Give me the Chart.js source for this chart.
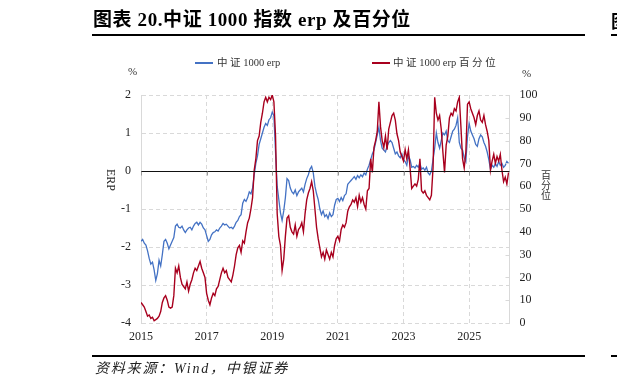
<!DOCTYPE html>
<html><head><meta charset="utf-8">
<script src="https://cdn.jsdelivr.net/npm/chart.js@4/dist/chart.umd.min.js"></script>
<style>
html,body{margin:0;padding:0;background:#fff;width:617px;height:387px;overflow:hidden;position:relative;}
.t{position:absolute;white-space:nowrap;color:#000;}
#title{left:93px;top:11px;font:bold 19px/18px "Liberation Serif","Noto Sans CJK SC",serif;letter-spacing:0.6px;}
.rule{position:absolute;background:#000;height:1.5px;}
#src{left:95px;top:361px;font:italic 14px/16px "Liberation Serif","Noto Sans CJK SC",serif;color:#222;letter-spacing:1.8px;}
.leg{font:10.5px/12px "Liberation Serif","Noto Sans CJK SC",serif;color:#333;}
.lline{position:absolute;height:1.5px;}
.unit{font:11px/12px "Liberation Serif",serif;color:#333;}
#erp{left:100px;top:174px;font:12px/12px "Liberation Serif",serif;transform:rotate(90deg);transform-origin:center;color:#222;}
#pct{left:541px;top:170px;font:10px/10px "Noto Sans CJK SC",sans-serif;color:#333;white-space:normal;width:11px;}
canvas{position:absolute;left:0;top:0;}
</style></head>
<body>
<canvas id="c" width="617" height="387"></canvas>
<div class="t" id="title">图表 20.中证 1000 指数 erp 及百分位</div>
<div class="rule" style="left:92px;top:34px;width:493px;"></div>
<div class="t" style="left:611px;top:11px;font:bold 18px/18px 'Noto Sans CJK SC';">图</div>
<div class="rule" style="left:611px;top:34px;width:6px;"></div>
<div class="lline" style="left:195px;top:62px;width:18px;background:#4472C4;"></div>
<div class="t leg" style="left:217px;top:57px;">中 证 1000 erp</div>
<div class="lline" style="left:372px;top:62px;width:18px;background:#A8001E;"></div>
<div class="t leg" style="left:393px;top:57px;">中 证 1000 erp 百 分 位</div>
<div class="t unit" style="left:128px;top:65px;">%</div>
<div class="t unit" style="left:522px;top:67px;">%</div>
<div class="t" id="erp">ERP</div>
<div class="t" id="pct">百分位</div>
<div class="rule" style="left:92px;top:355px;width:493px;"></div>
<div class="rule" style="left:611px;top:355px;width:6px;"></div>
<div class="t" id="src">资料来源：Wind，中银证券</div>
<script>
// decimal-year dates (every ~0.05 year)
const dates = [];
for (let i = 0; i <= 224; i++) dates.push(+(2015 + i * 0.05).toFixed(2));

const xTicks = [2015, 2017, 2019, 2021, 2023, 2025];

// 中证1000 erp (%)
const erp = [
-1.85,-1.80,-1.90,-1.95,-2.10,-2.30,-2.45,-2.40,-2.60,-2.88,-2.70,-2.35,-2.50,-2.20,-1.85,-1.80,-1.90,-2.05,-1.95,-1.85,
-1.75,-1.45,-1.40,-1.48,-1.50,-1.45,-1.55,-1.62,-1.55,-1.50,-1.48,-1.55,-1.45,-1.38,-1.35,-1.42,-1.35,-1.40,-1.50,-1.55,
-1.70,-1.85,-1.80,-1.68,-1.62,-1.60,-1.55,-1.58,-1.50,-1.45,-1.38,-1.42,-1.40,-1.45,-1.50,-1.48,-1.52,-1.45,-1.35,-1.30,
-1.20,-1.15,-0.85,-0.75,-0.80,-0.70,-0.55,-0.60,-0.45,-0.10,0.20,0.40,0.70,0.85,1.00,1.15,1.25,1.20,1.35,1.40,
1.55,1.45,0.50,-0.40,-0.75,-1.10,-1.30,-1.05,-0.70,-0.20,-0.25,-0.45,-0.55,-0.60,-0.50,-0.65,-0.55,-0.50,-0.45,-0.55,
-0.35,-0.20,-0.10,0.05,0.12,-0.05,-0.40,-0.60,-0.75,-1.00,-1.15,-1.05,-1.20,-1.15,-1.25,-1.10,-1.20,-1.15,-0.90,-0.75,
-0.72,-0.80,-0.70,-0.78,-0.65,-0.60,-0.35,-0.30,-0.25,-0.20,-0.15,-0.22,-0.12,-0.18,-0.10,-0.15,-0.05,-0.10,0.05,0.15,
0.30,0.45,0.55,0.75,0.95,1.15,0.80,0.60,0.55,0.50,0.65,0.75,0.80,0.75,0.60,0.45,0.50,0.40,0.35,0.45,
0.30,0.25,0.15,0.40,0.30,0.10,0.12,0.08,0.15,0.10,0.20,0.05,0.08,0.02,0.10,-0.05,-0.10,0.00,0.30,0.60,
1.00,0.75,0.60,0.80,1.00,0.95,1.05,0.80,0.75,0.90,1.05,1.10,1.20,1.40,0.75,0.60,0.55,0.35,0.25,0.90,
1.25,1.05,0.95,0.85,0.70,0.65,0.85,0.95,0.90,0.75,0.65,0.50,0.30,0.05,0.15,0.10,0.20,0.12,0.25,0.15,
0.20,0.10,0.15,0.25,0.20
];

// 中证1000 erp 百分位 (%)
const pctl = [
9,8,7,5,3,3.5,2,2.5,1,1.5,2,3,5,9,11,12,10,7,6.5,7,
12,24,22,25,20,17,16,15,18,14,17,19,22,24,23,25,27,24,22,20,
13,10,8,11,13,12,15,16,19,22,24,22,23,20,19,18,21,25,30,33,
34,31,36,35,40,44,46,50,55,67,72,80,82,88,92,97,99,97,99,98,
100,97,82,48,38,34,23,28,38,46,47,42,40,39,43,38,41,42,44,40,
48,54,57,59,62,58,50,42,37,33,29,31,28,32,30,28,31,29,34,37,
38,36,41,43,42,44,49,51,52,54,53,55,51,56,53,55,52,50,58,59,
72,66,77,80,84,97,86,80,77,82,76,85,88,91,92,89,83,80,75,73,
71,76,72,76,68,59,60,61,60,63,72,58,57,58,56,55,54,56,68,99,
92,89,91,85,75,66,78,82,90,92,91,94,93,97,99,86,72,68,75,96,
97,94,92,90,87,91,93,89,88,91,87,84,80,67,71,74,70,73,71,74,
67,62,64,61,66
];

const GRID = '#d9d9d9';
const extras = {
  id: 'extras',
  afterDatasetsDraw(chart) {
    const {ctx, chartArea: a, scales} = chart;
    const y0 = Math.round(scales.y.getPixelForValue(0)) + 0.5;
    ctx.save();
    ctx.strokeStyle = '#111';
    ctx.lineWidth = 1;
    ctx.beginPath();
    ctx.moveTo(a.left, y0); ctx.lineTo(a.right, y0);
    ctx.stroke();
    ctx.strokeStyle = '#999';
    xTicks.forEach(v => {
      const x = Math.round(scales.x.getPixelForValue(v)) + 0.5;
      ctx.beginPath(); ctx.moveTo(x, y0); ctx.lineTo(x, y0 + 4); ctx.stroke();
    });
    ctx.strokeStyle = GRID;
    scales.y1.ticks.forEach(t => {
      const y = Math.round(scales.y1.getPixelForValue(t.value)) + 0.5;
      ctx.beginPath(); ctx.moveTo(a.right - 4, y); ctx.lineTo(a.right, y); ctx.stroke();
    });
    ctx.restore();
  }
};

const tickFont = {family: '"Liberation Serif", serif', size: 12};
new Chart(document.getElementById('c'), {
  type: 'line',
  data: {
    datasets: [
      {label: '中证1000 erp', data: dates.map((d, i) => ({x: d, y: erp[i]})), yAxisID: 'y',
       borderColor: '#4472C4', borderWidth: 1.3, pointRadius: 0, tension: 0, order: 2},
      {label: '中证1000 erp 百分位', data: dates.map((d, i) => ({x: d, y: pctl[i]})), yAxisID: 'y1',
       borderColor: '#A8001E', borderWidth: 1.4, pointRadius: 0, tension: 0, order: 1}
    ]
  },
  options: {
    responsive: false, animation: false, devicePixelRatio: 1,
    layout: {padding: {left: 0, right: 0, top: 95, bottom: 0}},
    plugins: {legend: {display: false}, tooltip: {enabled: false}},
    scales: {
      x: {
        type: 'linear', min: 2015, max: 2026.23,
        afterBuildTicks: s => { s.ticks = xTicks.map(v => ({value: v})); },
        afterFit: s => { s.height = 64; },
        ticks: {callback: v => String(v), font: tickFont, color: '#222', padding: 7, maxRotation: 0, autoSkip: false},
        grid: {color: GRID, drawTicks: false, lineWidth: 1},
        border: {display: false, dash: [4, 3]}
      },
      y: {
        position: 'left', min: -4, max: 2,
        afterFit: s => { s.width = 141; },
        ticks: {stepSize: 1, font: tickFont, color: '#222', padding: 10},
        grid: {color: c => c.tick && c.tick.value === 0 ? 'rgba(0,0,0,0)' : GRID, drawTicks: false},
        border: {display: true, color: GRID, dash: [4, 3]}
      },
      y1: {
        position: 'right', min: 0, max: 100,
        afterFit: s => { s.width = 107.5; },
        ticks: {stepSize: 10, font: tickFont, color: '#222', padding: 10},
        grid: {drawOnChartArea: false, drawTicks: false},
        border: {display: true, color: GRID}
      }
    }
  },
  plugins: [extras]
});
</script>
</body></html>
